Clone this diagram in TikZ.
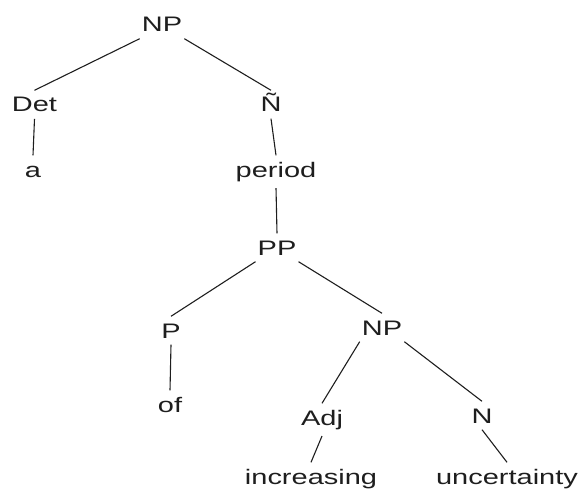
\documentclass[tikz,border=0pt]{standalone}
\usepackage{fontspec}
\setmainfont{Liberation Sans}[FakeStretch=1.38]
\definecolor{treeink}{RGB}{30,30,30}

\begin{document}
\begin{tikzpicture}[x=1pt, y=-1pt,
    tag/.style={anchor=base, text=treeink, font=\fontsize{21}{25}\selectfont,
                text height=15pt, inner xsep=2pt, inner ysep=6.5pt},
    branch/.style={treeink, line width=1.1pt}]
    \useasboundingbox (0,0) rectangle (585,489);

    % Top noun phrase
    \node[tag] (np) at (162,32) {NP};
    \node[tag] (det) at (34.5,112) {Det};
    \node[tag] (nbar) at (271,112) {Ñ};
    \node[tag] (wa) at (33,177) {a};
    \node[tag] (period) at (276,177) {period};

    % Prepositional phrase
    \node[tag] (pp) at (277,255) {PP};
    \node[tag] (p) at (171,338) {P};
    \node[tag] (wof) at (170,412) {of};

    % Inner noun phrase
    \node[tag] (np2) at (382,335) {NP};
    \node[tag] (adj) at (322,425) {Adj};
    \node[tag] (n) at (482,423) {N};
    \node[tag] (winc) at (311,484) {increasing};
    \node[tag] (wunc) at (507,484) {uncertainty};

    % Branches
    \draw[branch] (np.south west) -- (det.north);
    \draw[branch] (np.south east) -- (nbar.north);
    \draw[branch] (det.south) -- (wa.north);
    \draw[branch] (nbar.south) -- (period.north);
    \draw[branch] (period.south) -- (pp.north);
    \draw[branch] (pp.south west) -- (p.north);
    \draw[branch] (pp.south east) -- (np2.north);
    \draw[branch] (p.south) -- (wof.north);
    \draw[branch] (np2.south west) -- (adj.north);
    \draw[branch] (np2.south east) -- (n.north);
    \draw[branch] (adj.south) -- (winc.north);
    \draw[branch] (n.south) -- (wunc.north);
\end{tikzpicture}
\end{document}
